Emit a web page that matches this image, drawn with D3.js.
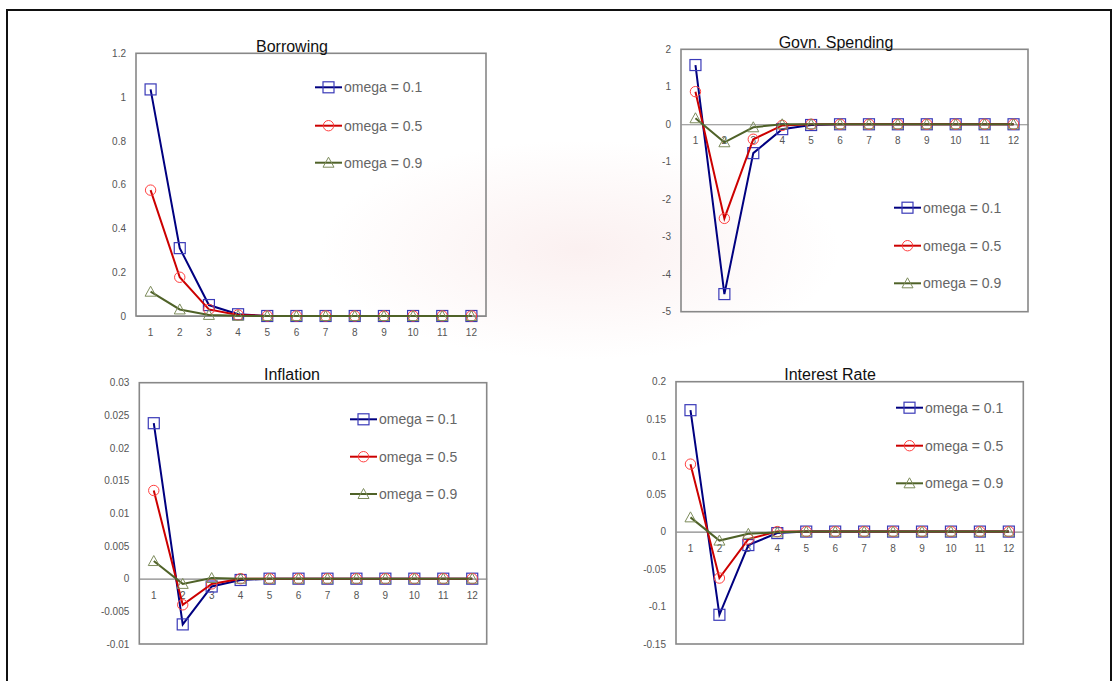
<!DOCTYPE html>
<html>
<head>
<meta charset="utf-8">
<script src="https://cdn.jsdelivr.net/npm/d3@7"></script>
<style>
  body { margin: 0; background: #fff; }
  svg text { font-family: "Liberation Sans", Arial, sans-serif; }
  .tick-lbl { font-size: 10px; fill: #555; }
  .panel-title { font-size: 16px; fill: #111; }
  .legend-lbl { font-size: 14px; fill: #666; }
</style>
</head>
<body>
<svg id="chart" width="1113" height="681"></svg>
<script>
// horizon (periods after shock)
const periods = [1, 2, 3, 4, 5, 6, 7, 8, 9, 10, 11, 12];
const seriesNames = ["omega = 0.1", "omega = 0.5", "omega = 0.9"];

// impulse responses
const borrowing01 = [1.035, 0.31, 0.05, 0.008, 0, 0, 0, 0, 0, 0, 0, 0];
const borrowing05 = [0.575, 0.177, 0.03, 0.005, 0, 0, 0, 0, 0, 0, 0, 0];
const borrowing09 = [0.111, 0.03, 0.005, 0.001, 0, 0, 0, 0, 0, 0, 0, 0];

const spending01 = [1.58, -4.53, -0.77, -0.13, -0.02, 0, 0, 0, 0, 0, 0, 0];
const spending05 = [0.87, -2.51, -0.4, -0.03, 0, 0, 0, 0, 0, 0, 0, 0];
const spending09 = [0.16, -0.48, -0.08, 0, 0, 0, 0, 0, 0, 0, 0, 0];

const inflation01 = [0.0238, -0.0070, -0.0012, -0.0002, 0, 0, 0, 0, 0, 0, 0, 0];
const inflation05 = [0.0135, -0.0040, -0.0008, 0, 0, 0, 0, 0, 0, 0, 0, 0];
const inflation09 = [0.0027, -0.0008, 0.0001, 0, 0, 0, 0, 0, 0, 0, 0, 0];

const interest01 = [0.162, -0.111, -0.018, -0.002, 0, 0, 0, 0, 0, 0, 0, 0];
const interest05 = [0.090, -0.062, -0.010, 0, 0, 0, 0, 0, 0, 0, 0, 0];
const interest09 = [0.019, -0.012, -0.003, -0.001, 0, 0, 0, 0, 0, 0, 0, 0];

// y tick labels per panel
const borrowingTicks = [0, 0.2, 0.4, 0.6, 0.8, 1, 1.2];
const spendingTicks = [-5, -4, -3, -2, -1, 0, 1, 2];
const inflationTicks = [-0.01, -0.005, 0, 0.005, 0.01, 0.015, 0.02, 0.025, 0.03];
const interestTicks = [-0.15, -0.1, -0.05, 0, 0.05, 0.1, 0.15, 0.2];

const lineColors = ["#000080", "#cc0000", "#4f6228"];
const markColors = ["#3a3ab8", "#ff4040", "#7d8c5c"];
const markShapes = ["square", "circle", "triangle"];

const svg = d3.select("#chart");

// very faint watermark tint behind the charts
const defs = svg.append("defs");
const grad = defs.append("radialGradient").attr("id", "wm");
grad.append("stop").attr("offset", "0%").attr("stop-color", "#f6dede").attr("stop-opacity", 0.45);
grad.append("stop").attr("offset", "100%").attr("stop-color", "#f6dede").attr("stop-opacity", 0);
svg.append("ellipse")
    .attr("cx", 580).attr("cy", 250)
    .attr("rx", 260).attr("ry", 110)
    .attr("fill", "url(#wm)");

// outer frame
svg.append("path")
    .attr("d", "M7,690 L7,10 L1111,10 L1111,690")
    .attr("fill", "none")
    .attr("stroke", "#111")
    .attr("stroke-width", 2);

const panels = [
    { title: "Borrowing", series: [borrowing01, borrowing05, borrowing09], ticks: borrowingTicks,
      box: { x0: 136, x1: 486, y0: 53.3, y1: 316 }, titleX: 292, titleY: 51.5,
      legend: { x: 315, rows: [87.3, 125.7, 162.7] } },
    { title: "Govn. Spending", series: [spending01, spending05, spending09], ticks: spendingTicks,
      box: { x0: 681, x1: 1028, y0: 49.3, y1: 311.7 }, titleX: 836, titleY: 47.5,
      legend: { x: 894, rows: [207.7, 245.7, 283.3] } },
    { title: "Inflation", series: [inflation01, inflation05, inflation09], ticks: inflationTicks,
      box: { x0: 139.3, x1: 486.7, y0: 382.7, y1: 644 }, titleX: 292, titleY: 379.5,
      legend: { x: 350, rows: [419.3, 456.7, 494] } },
    { title: "Interest Rate", series: [interest01, interest05, interest09], ticks: interestTicks,
      box: { x0: 676, x1: 1023.3, y0: 381.7, y1: 644 }, titleX: 830, titleY: 380,
      legend: { x: 896, rows: [407.7, 445.7, 483.3] } }
];

function marker(g, shape, cx, cy, color) {
    if (shape === "square") {
        g.append("rect")
            .attr("x", cx - 5.5).attr("y", cy - 5.5)
            .attr("width", 11).attr("height", 11)
            .attr("fill", "none").attr("stroke", color).attr("stroke-width", 1.2);
    } else if (shape === "circle") {
        g.append("circle")
            .attr("cx", cx).attr("cy", cy).attr("r", 5.2)
            .attr("fill", "none").attr("stroke", color).attr("stroke-width", 1);
    } else {
        g.append("path")
            .attr("d", `M${cx},${cy - 5.5} L${cx + 5.5},${cy + 4.5} L${cx - 5.5},${cy + 4.5} Z`)
            .attr("fill", "none").attr("stroke", color).attr("stroke-width", 1);
    }
}

panels.forEach(p => {
    const g = svg.append("g").attr("class", "panel");
    const x = d3.scaleBand().domain(periods).range([p.box.x0, p.box.x1]);
    const y = d3.scaleLinear()
        .domain(d3.extent(p.ticks))
        .range([p.box.y1, p.box.y0]);
    const fmt = d => String(+d.toFixed(4));

    // y axis labels, no tick marks
    const yAxis = g.append("g")
        .attr("transform", `translate(${p.box.x0},0)`)
        .call(d3.axisLeft(y).tickValues(p.ticks).tickFormat(fmt).tickSize(0).tickPadding(10));
    yAxis.select(".domain").remove();
    yAxis.selectAll("text").attr("class", "tick-lbl").attr("fill", null);

    // plot frame
    g.append("rect")
        .attr("x", p.box.x0).attr("y", p.box.y0)
        .attr("width", p.box.x1 - p.box.x0).attr("height", p.box.y1 - p.box.y0)
        .attr("fill", "none").attr("stroke", "#888").attr("stroke-width", 1.6);

    // zero line + category labels
    const xAxis = g.append("g")
        .attr("transform", `translate(0,${y(0)})`)
        .call(d3.axisBottom(x).tickSize(0).tickPadding(13));
    xAxis.select(".domain").attr("stroke", "#888").attr("stroke-width", 1.2);
    xAxis.selectAll("text").attr("class", "tick-lbl").attr("fill", null);

    const line = d3.line()
        .x((d, i) => x(periods[i]) + x.bandwidth() / 2)
        .y(d => y(d));

    p.series.forEach((vals, s) => {
        const sg = g.append("g");
        sg.append("path")
            .datum(vals)
            .attr("d", line)
            .attr("fill", "none")
            .attr("stroke", lineColors[s])
            .attr("stroke-width", 2);
        vals.forEach((v, i) => {
            marker(sg, markShapes[s], x(periods[i]) + x.bandwidth() / 2, y(v), markColors[s]);
        });
    });

    // title
    g.append("text")
        .attr("class", "panel-title")
        .attr("x", p.titleX).attr("y", p.titleY)
        .attr("text-anchor", "middle")
        .text(p.title);

    // legend
    seriesNames.forEach((name, s) => {
        const ry = p.legend.rows[s];
        const lg = g.append("g");
        lg.append("line")
            .attr("x1", p.legend.x).attr("x2", p.legend.x + 27)
            .attr("y1", ry).attr("y2", ry)
            .attr("stroke", lineColors[s]).attr("stroke-width", 2);
        marker(lg, markShapes[s], p.legend.x + 13.5, ry, markColors[s]);
        lg.append("text")
            .attr("class", "legend-lbl")
            .attr("x", p.legend.x + 29).attr("y", ry)
            .attr("dy", "0.35em")
            .text(name);
    });
});
</script>
</body>
</html>
